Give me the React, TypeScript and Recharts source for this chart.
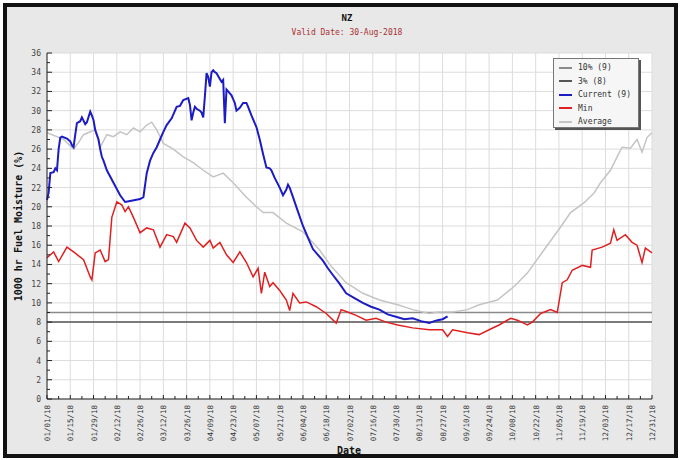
import { LineChart, Line, XAxis, YAxis, CartesianGrid, ReferenceLine } from 'recharts'

// tick labels, one every 14 days from Jan 1
const xTickLabels = [
  '01/01/18', '01/15/18', '01/29/18', '02/12/18', '02/26/18', '03/12/18', '03/26/18',
  '04/09/18', '04/23/18', '05/07/18', '05/21/18', '06/04/18', '06/18/18', '07/02/18',
  '07/16/18', '07/30/18', '08/13/18', '08/27/18', '09/10/18', '09/24/18', '10/08/18',
  '10/22/18', '11/05/18', '11/19/18', '12/03/18', '12/17/18', '12/31/18',
]
const yTicks = [0, 2, 4, 6, 8, 10, 12, 14, 16, 18, 20, 22, 24, 26, 28, 30, 32, 34, 36]

// percentile thresholds
const pct10 = 9
const pct3 = 8

// [day of year, value]
const current: [number, number][] = [
  [0, 20.7], [1, 21.5], [2, 23.5], [4, 23.6], [5, 24], [6, 23.8], [7, 26], [8, 27.2], [9, 27.3],
  [12, 27.1], [14, 26.8], [15, 26.4], [16, 26.2], [17, 27.5], [18, 28.7], [20, 28.9], [21, 29.3],
  [23, 28.6], [24, 28.8], [26, 29.9], [27, 29.5], [28, 29], [29, 28], [31, 27], [32, 26], [33, 25.2],
  [34, 24.8], [36, 23.8], [40, 22.5], [44, 21.2], [47, 20.5], [50, 20.6], [53, 20.7], [56, 20.8],
  [58, 21], [60, 23.5], [62, 24.8], [64, 25.6], [66, 26.2], [68, 27], [70, 27.8], [72, 28.5],
  [75, 29.2], [78, 30.4], [80, 30.5], [82, 31.1], [85, 31.3], [86, 30.6], [87, 29], [88, 29.8],
  [89, 30.4], [90, 30.2], [92, 30], [93, 29.8], [94, 29.3], [95, 31.5], [96, 33.9], [97, 33.5],
  [98, 32.5], [99, 34], [100, 34.2], [101, 34], [102, 33.9], [104, 33.3], [105, 33], [106, 33.2],
  [107, 28.7], [108, 32.2], [109, 32], [111, 31.6], [113, 30.8], [114, 30], [116, 30.3], [118, 30.8],
  [120, 30.8], [121, 30.4], [123, 29.5], [126, 28.3], [128, 27], [130, 25.5], [132, 24.1], [134, 24],
  [135, 23.8], [137, 23], [140, 22], [142, 21.2], [144, 21.8], [145, 22.3], [146, 22], [148, 21],
  [151, 19.5], [154, 18], [157, 16.8], [160, 15.6], [163, 15], [166, 14.4], [169, 13.6], [172, 12.9],
  [176, 12], [180, 11], [185, 10.5], [190, 10], [195, 9.6], [200, 9.3], [205, 8.8], [211, 8.5],
  [215, 8.3], [220, 8.4], [225, 8.1], [230, 7.9], [233, 8.1], [235, 8.2], [238, 8.3], [241, 8.6],
]

const minimum: [number, number][] = [
  [0, 14.7], [4, 15.3], [7, 14.3], [12, 15.8], [16, 15.3], [22, 14.5], [26, 12.7], [27, 12.4],
  [29, 15.2], [32, 15.5], [35, 14.3], [37, 14.5], [39, 18.9], [42, 20.5], [45, 20.2], [47, 19.5],
  [49, 20], [52, 18.9], [56, 17.3], [60, 17.8], [64, 17.6], [68, 15.8], [72, 17.1], [76, 16.9],
  [78, 16.3], [83, 18.3], [86, 17.8], [90, 16.5], [94, 15.8], [98, 16.5], [100, 15.7], [104, 16.3],
  [108, 15], [112, 14.2], [116, 15.3], [120, 14.2], [124, 12.7], [127, 13.6], [129, 11], [131, 13.2],
  [134, 11.7], [136, 12.1], [140, 11.3], [142, 10.8], [144, 10.3], [146, 9.2], [148, 11], [152, 10],
  [156, 10.1], [162, 9.6], [168, 8.9], [174, 7.9], [177, 9.3], [180, 9.1], [186, 8.7], [192, 8.2],
  [198, 8.4], [204, 8], [211, 7.7], [220, 7.4], [230, 7.2], [238, 7.2], [241, 6.5], [244, 7.2],
  [253, 6.9], [260, 6.7], [266, 7.2], [272, 7.7], [279, 8.4], [283, 8.2], [289, 7.7], [292, 8],
  [297, 8.9], [303, 9.3], [307, 9], [310, 12.1], [313, 12.4], [316, 13.4], [322, 13.9], [327, 13.7],
  [328, 15.5], [334, 15.8], [339, 16.2], [341, 17.6], [343, 16.5], [348, 17.1], [352, 16.3],
  [355, 16], [358, 14.2], [360, 15.7], [364, 15.2],
]

const average: [number, number][] = [
  [0, 27.7], [6, 27.3], [10, 27], [16, 26], [19, 26.7], [22, 27.5], [26, 27.8], [29, 28], [32, 26.2],
  [36, 27.5], [40, 27.3], [44, 27.8], [48, 27.5], [52, 28.2], [56, 27.8], [60, 28.5], [63, 28.8],
  [66, 28], [70, 26.6], [76, 26], [82, 25.2], [88, 24.6], [94, 23.8], [100, 23.1], [106, 23.5],
  [112, 22.5], [120, 21], [126, 20], [130, 19.4], [136, 19.4], [144, 18.3], [154, 17.4], [164, 15.5],
  [171, 13.8], [180, 12.1], [190, 11], [200, 10.3], [211, 9.8], [220, 9.3], [230, 8.9], [236, 9.05],
  [244, 9.05], [253, 9.3], [260, 9.8], [271, 10.3], [281, 11.7], [289, 13.1], [299, 15.5],
  [309, 17.9], [315, 19.4], [323, 20.4], [329, 21.4], [333, 22.5], [339, 23.8], [343, 25.2],
  [346, 26.2], [351, 26.1], [355, 27], [358, 25.7], [361, 27.2], [364, 27.7],
]

const legendItems = [
  { name: '10% (9)', color: '#8a8a8a' },
  { name: '3% (8)', color: '#555555' },
  { name: 'Current (9)', color: '#1c1cc4' },
  { name: 'Min', color: '#e02020' },
  { name: 'Average', color: '#c4c4c4' },
]

const toRows = (s: [number, number][]) => s.map(([day, value]) => ({ day, value }))

const majorDays = xTickLabels.map((_, i) => i * 14)
const allDays = Array.from({ length: 53 }, (_, i) => i * 7)
const allY = Array.from({ length: 37 }, (_, i) => i)

const mono = '"DejaVu Sans Mono", monospace'

function XTick(props: any) {
  const { x, y, payload } = props
  const d = payload.value
  const axisY = y - 6
  const major = d % 14 === 0
  return (
    <g>
      <line x1={x} x2={x} y1={axisY} y2={axisY - (major ? 4 : 3)} stroke="#222" />
      {major && (
        <text
          x={x}
          y={y}
          dy={3}
          transform={`rotate(-90 ${x} ${y})`}
          textAnchor="end"
          fontSize={7.5}
          fontFamily={mono}
          fill="#333"
        >
          {xTickLabels[d / 14]}
        </text>
      )}
    </g>
  )
}

function YTick(props: any) {
  const { x, y, payload } = props
  const v = payload.value
  const axisX = x + 6
  const major = v % 2 === 0
  return (
    <g>
      <line x1={axisX} x2={axisX + (major ? 5 : 3)} y1={y} y2={y} stroke="#222" />
      {major && (
        <text x={x} y={y} dy={3} textAnchor="end" fontSize={8} fontFamily={mono} fill="#444">
          {v}
        </text>
      )}
    </g>
  )
}

export default function App() {
  return (
    <div style={{ position: 'absolute', left: 0, top: 0, width: 682, height: 460, background: '#fff' }}>
      <div
        style={{
          position: 'absolute',
          left: 3,
          top: 3,
          width: 667,
          height: 447,
          border: '4px solid #111',
          background: '#e8e8e8',
        }}
      />
      <div style={{ position: 'absolute', left: 0, top: 0 }}>
        <LineChart width={682} height={460} margin={{ top: 53, right: 30, bottom: 6, left: 7 }}>
          <CartesianGrid
            fill="#ffffff"
            stroke="#dcdcdc"
            horizontalValues={yTicks}
            verticalValues={majorDays}
          />
          <XAxis
            type="number"
            dataKey="day"
            domain={[0, 364]}
            ticks={allDays}
            interval={0}
            height={55}
            tickSize={0}
            tickMargin={6}
            tick={<XTick />}
            axisLine={{ stroke: '#222' }}
            allowDuplicatedCategory={false}
          />
          <YAxis
            type="number"
            domain={[0, 36]}
            ticks={allY}
            interval={0}
            width={40}
            tickSize={0}
            tickMargin={6}
            tick={<YTick />}
            axisLine={{ stroke: '#222' }}
          />
          <ReferenceLine y={pct10} stroke="#8a8a8a" strokeWidth={1.5} />
          <ReferenceLine y={pct3} stroke="#555555" strokeWidth={1.5} />
          <Line
            data={toRows(average)}
            dataKey="value"
            stroke="#c4c4c4"
            strokeWidth={1.5}
            dot={false}
            isAnimationActive={false}
          />
          <Line
            data={toRows(minimum)}
            dataKey="value"
            stroke="#e02020"
            strokeWidth={1.5}
            dot={false}
            isAnimationActive={false}
          />
          <Line
            data={toRows(current)}
            dataKey="value"
            stroke="#1c1cc4"
            strokeWidth={2}
            dot={false}
            isAnimationActive={false}
          />
        </LineChart>
      </div>
      <div
        style={{
          position: 'absolute',
          left: 0,
          width: 694,
          top: 13,
          textAlign: 'center',
          fontFamily: mono,
          fontSize: 9,
          fontWeight: 'bold',
          color: '#111',
        }}
      >
        NZ
      </div>
      <div
        style={{
          position: 'absolute',
          left: 0,
          width: 694,
          top: 28,
          textAlign: 'center',
          fontFamily: mono,
          fontSize: 8,
          color: '#a83030',
        }}
      >
        Valid Date: 30-Aug-2018
      </div>
      <div
        style={{
          position: 'absolute',
          left: 0,
          width: 698,
          top: 445,
          textAlign: 'center',
          fontFamily: mono,
          fontSize: 10,
          fontWeight: 'bold',
          color: '#111',
        }}
      >
        Date
      </div>
      <div
        style={{
          position: 'absolute',
          left: 18,
          top: 226,
          transform: 'translate(-50%, -50%) rotate(-90deg)',
          whiteSpace: 'nowrap',
          fontFamily: mono,
          fontSize: 10,
          fontWeight: 'bold',
          color: '#111',
        }}
      >
        1000 hr Fuel Moisture (%)
      </div>
      <div
        style={{
          position: 'absolute',
          left: 553,
          top: 58,
          width: 86,
          height: 70,
          background: '#f6f6f6',
          border: '1px solid #777',
          boxShadow: '2px 2px 0 #555',
          boxSizing: 'border-box',
          paddingTop: 2,
        }}
      >
        {legendItems.map((it) => (
          <div key={it.name} style={{ display: 'flex', alignItems: 'center', height: 13.5 }}>
            <div style={{ marginLeft: 5, width: 13, height: 2, background: it.color }} />
            <span style={{ marginLeft: 6, fontFamily: mono, fontSize: 8, color: '#333' }}>{it.name}</span>
          </div>
        ))}
      </div>
    </div>
  )
}
